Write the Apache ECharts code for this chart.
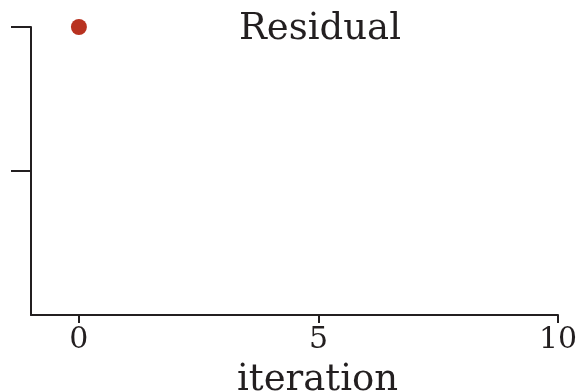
<!DOCTYPE html>
<html>
<head>
<meta charset="utf-8">
<script src="https://cdn.jsdelivr.net/npm/echarts@6/dist/echarts.min.js"></script>
<style>
  html, body { margin: 0; padding: 0; background: #fff; }
  #chart { width: 581px; height: 391px; }
</style>
</head>
<body>
<div id="chart"></div>
<script>
// data
const iterations = [0];
const residuals = [2];
const xTicks = [0, 5, 10];
const yTicks = [1, 2];

const ink = "#231f20";
const serif = "DejaVu Serif";

const chart = echarts.init(document.getElementById("chart"), null, { renderer: "canvas" });

chart.setOption({
  animation: false,
  title: {
    text: "Residual",
    left: 315,
    top: 6,
    textAlign: "center",
    textStyle: { fontFamily: serif, fontSize: 37, fontWeight: "normal", color: ink },
  },
  grid: { left: 31, right: 23, top: 27, bottom: 76, outerBoundsMode: "none" },
  xAxis: {
    type: "value",
    min: -1,
    max: 10,
    name: "iteration",
    nameLocation: "middle",
    nameGap: 47,
    nameTextStyle: { fontFamily: serif, fontSize: 37, color: ink, padding: [0, 0, 0, 46] },
    axisLine: { show: true, onZero: false, lineStyle: { color: ink, width: 2 } },
    axisTick: { show: true, length: 8, customValues: xTicks, lineStyle: { color: ink, width: 2 } },
    axisLabel: { customValues: xTicks, margin: 10, fontFamily: serif, fontSize: 30, color: ink },
    splitLine: { show: false },
  },
  yAxis: {
    type: "value",
    min: 0,
    max: 2,
    axisLine: { show: true, onZero: false, lineStyle: { color: ink, width: 2 } },
    axisTick: { show: true, length: 20, customValues: yTicks, lineStyle: { color: ink, width: 2 } },
    axisLabel: { show: false },
    splitLine: { show: false },
  },
  series: [
    {
      type: "scatter",
      data: iterations.map((it, i) => [it, residuals[i]]),
      symbolSize: 16,
      itemStyle: { color: "#b83220", opacity: 1 },
    },
  ],
});
</script>
</body>
</html>
